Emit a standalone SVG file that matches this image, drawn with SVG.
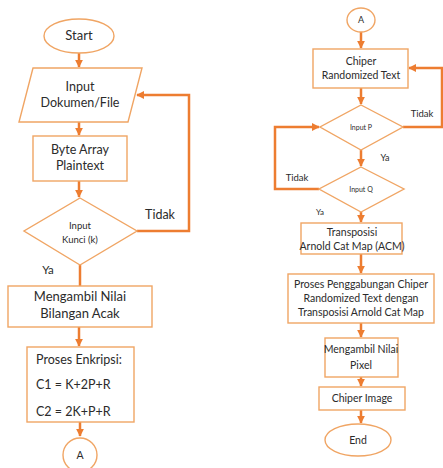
<svg xmlns="http://www.w3.org/2000/svg" width="443" height="468" viewBox="0 0 443 468">
<style>
.s{fill:#fff;stroke:#F0A564;stroke-width:1.4}
.c{fill:none;stroke:#ED7D31;stroke-width:2.5}
text{font-family:Lato,"Open Sans","Liberation Sans",sans-serif;fill:#2b2b2b;text-anchor:middle}
.l{font-size:13px}
.m{font-size:10.5px}
.t{font-size:8px}
</style>
<defs>
<marker id="ah" viewBox="0 0 10 10" refX="9" refY="5" markerWidth="3.2" markerHeight="3.2" orient="auto" markerUnits="strokeWidth">
<path d="M0,0 L10,5 L0,10 z" fill="#ED7D31"/>
</marker>
</defs>
<rect width="443" height="468" fill="#fff"/>
<g id="connectors">
<line class="c" x1="79" y1="53" x2="79" y2="67" marker-end="url(#ah)"/>
<line class="c" x1="79" y1="122" x2="79" y2="135" marker-end="url(#ah)"/>
<line class="c" x1="79" y1="181" x2="79" y2="197" marker-end="url(#ah)"/>
<polyline class="c" points="137,231 189,231 189,95 137,95" marker-end="url(#ah)"/>
<line class="c" x1="80" y1="265" x2="80" y2="286"/>
<line class="c" x1="79" y1="327" x2="79" y2="346" marker-end="url(#ah)"/>
<line class="c" x1="80" y1="422" x2="80" y2="436" marker-end="url(#ah)"/>
<line class="c" x1="361" y1="32" x2="361" y2="48" marker-end="url(#ah)"/>
<line class="c" x1="361" y1="88" x2="361" y2="104" marker-end="url(#ah)"/>
<polyline class="c" points="403,127 442,127 442,68 409,68" marker-end="url(#ah)"/>
<line class="c" x1="361" y1="150" x2="361" y2="166" marker-end="url(#ah)"/>
<polyline class="c" points="319,189 275,189 275,127 319,127" marker-end="url(#ah)"/>
<line class="c" x1="361" y1="212" x2="361" y2="222" marker-end="url(#ah)"/>
<line class="c" x1="361" y1="254" x2="361" y2="273" marker-end="url(#ah)"/>
<line class="c" x1="361" y1="323" x2="361" y2="337" marker-end="url(#ah)"/>
<line class="c" x1="361" y1="377" x2="361" y2="386" marker-end="url(#ah)"/>
<line class="c" x1="361" y1="410" x2="361" y2="423" marker-end="url(#ah)"/>
<text class="m" x="160" y="219" style="font-size:12.5px">Tidak</text>
<text class="m" x="48" y="274" style="font-size:11.5px">Ya</text>
<text class="m" x="422" y="117" style="font-size:9.5px">Tidak</text>
<text class="t" x="385" y="161" style="font-size:9px">Ya</text>
<text class="m" x="297" y="181" style="font-size:9.5px">Tidak</text>
<text class="t" x="320" y="215">Ya</text>
</g>
<g id="start"><ellipse class="s" cx="79" cy="36" rx="35" ry="17"/><text class="l" x="79" y="40">Start</text></g>
<g id="input-dokumen"><polygon class="s" points="33,68 142,68 128,122 19,122"/><text class="m" x="80" y="91" style="font-size:12.5px">Input</text><text class="m" x="80" y="107" style="font-size:12.5px">Dokumen/File</text></g>
<g id="byte-array"><rect class="s" x="33" y="136" width="94" height="45"/><text class="l" x="80" y="154" style="font-size:12.5px">Byte Array</text><text class="l" x="80" y="170" style="font-size:12.5px">Plaintext</text></g>
<g id="input-kunci"><polygon class="s" points="80,198 137,231 80,265 24,231"/><text class="t" x="80" y="229" style="font-size:9.5px">Input</text><text class="t" x="80" y="243" style="font-size:9.5px">Kunci (k)</text></g>
<g id="mengambil-acak"><rect class="s" x="8" y="286" width="144" height="41"/><text class="l" x="80" y="301">Mengambil Nilai</text><text class="l" x="80" y="318">Bilangan Acak</text></g>
<g id="proses-enkripsi"><rect class="s" x="27" y="347" width="107" height="75"/><text class="l" x="36" y="364" style="text-anchor:start;font-size:12.5px">Proses Enkripsi:</text><text class="l" x="36" y="389" style="text-anchor:start;font-size:12.5px">C1 = K+2P+R</text><text class="l" x="36" y="416" style="text-anchor:start;font-size:12.5px">C2 = 2K+P+R</text></g>
<g id="conn-a1"><ellipse class="s" cx="80" cy="455" rx="17" ry="17"/><text class="m" x="80" y="459">A</text></g>
<g id="conn-a2"><ellipse class="s" cx="361" cy="20" rx="14" ry="12"/><text class="t" x="361" y="23" style="font-size:9px">A</text></g>
<g id="chiper-random"><rect class="s" x="313" y="49" width="95" height="39"/><text class="m" x="361" y="65">Chiper</text><text class="m" x="361" y="79">Randomized Text</text></g>
<g id="input-p"><polygon class="s" points="361,105 403,127 361,150 320,127"/><text class="t" x="361" y="130" style="font-size:7px">Input P</text></g>
<g id="input-q"><polygon class="s" points="361,167 404,189 361,212 319,189"/><text class="t" x="361" y="192" style="font-size:7px">Input Q</text></g>
<g id="transposisi"><rect class="s" x="301" y="223" width="101" height="31"/><text class="m" x="352" y="236">Transposisi</text><text class="m" x="352" y="250">Arnold Cat Map (ACM)</text></g>
<g id="proses-gabung"><rect class="s" x="288" y="274" width="146" height="49"/><text class="m" x="361" y="288">Proses Penggabungan Chiper</text><text class="m" x="361" y="302">Randomized Text dengan</text><text class="m" x="361" y="316">Transposisi Arnold Cat Map</text></g>
<g id="mengambil-pixel"><rect class="s" x="325" y="338" width="73" height="39"/><text class="m" x="361" y="353">Mengambil Nilai</text><text class="m" x="361" y="369">Pixel</text></g>
<g id="chiper-image"><rect class="s" x="319" y="387" width="86" height="23"/><text class="m" x="362" y="402">Chiper Image</text></g>
<g id="end"><ellipse class="s" cx="358" cy="440" rx="33" ry="16"/><text class="m" x="358" y="444">End</text></g>
</svg>
